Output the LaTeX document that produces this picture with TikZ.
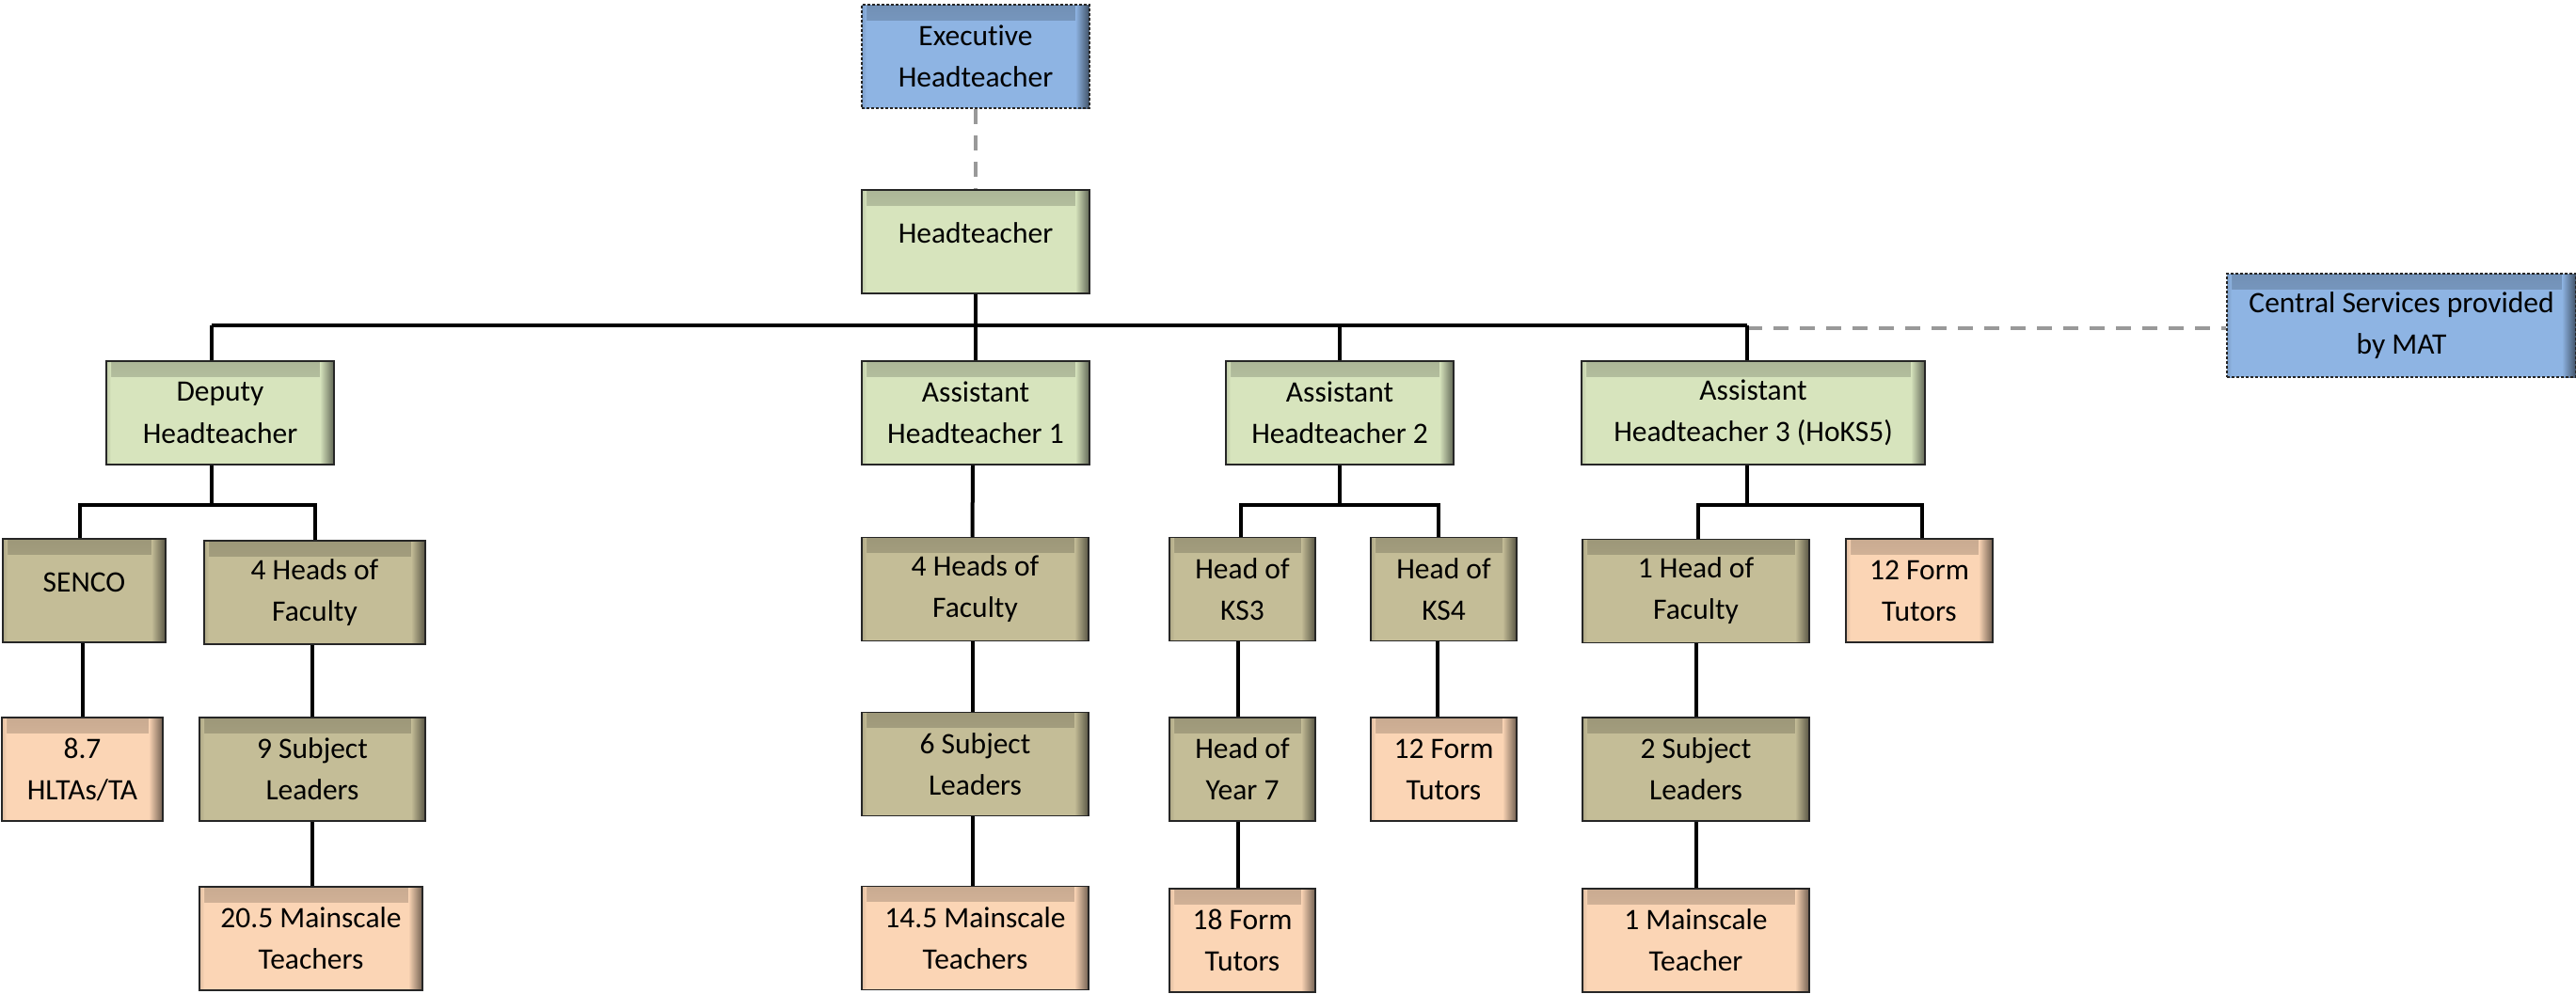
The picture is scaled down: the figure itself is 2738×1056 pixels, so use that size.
\documentclass[tikz,border=0pt]{standalone}
\usepackage{fontspec}
\setmainfont{Carlito}[Ligatures={NoCommon,NoContextual}, RawFeature={-liga;-clig;-dlig}]

\definecolor{mgtblue}{RGB}{142,180,227}
\definecolor{leadgreen}{RGB}{215,228,189}
\definecolor{middletan}{RGB}{196,189,151}
\definecolor{staffpeach}{RGB}{251,213,181}
\definecolor{linkgray}{RGB}{153,153,153}

% one drawing unit
\newdimen\pxu \pxu=0.5pt
% single-line captions sit a little above the box centre
\newcommand{\oneline}[1]{\raisebox{9\pxu}[\height][\depth]{#1}}

\tikzset{
  orgbox/.style={
    rectangle, draw=black!85, line width=0.75pt, fill=#1,
    minimum height=110\pxu, inner sep=0pt, align=center,
    font=\fontsize{15.75}{22}\selectfont,
    path picture={
      \shade[top color=#1!80!black, bottom color=#1]
        (path picture bounding box.north west)
        rectangle ([xshift=-15\pxu, yshift=-16\pxu]path picture bounding box.north east);
      \shade[left color=#1!88!black, right color=#1]
        (path picture bounding box.north west)
        rectangle ([xshift=5\pxu]path picture bounding box.south west);
      \shade[left color=#1, right color=#1!45!black]
        ([xshift=-15\pxu]path picture bounding box.north east)
        rectangle (path picture bounding box.south east);
    }},
  linkbox/.style={orgbox=mgtblue, dash pattern=on 1.5pt off 1pt},
  seniorbox/.style={orgbox=leadgreen},
  middlebox/.style={orgbox=middletan},
  staffbox/.style={orgbox=staffpeach},
  conn/.style={draw=black, line width=2pt},
  dotlink/.style={draw=linkgray, line width=2.25pt, dash pattern=on 8pt off 6pt},
}

\begin{document}
\begin{tikzpicture}[x=0.5pt, y=-0.5pt]
\useasboundingbox (0,0) rectangle (2738,1056);

% top of the tree
\node[linkbox, minimum width=242\pxu] (exec) at (1037,60) {Executive\\Headteacher};
\node[seniorbox, minimum width=242\pxu] (head) at (1037,257) {\oneline{Headteacher}};
\node[linkbox, minimum width=371\pxu] (central) at (2552.5,346) {Central Services provided\\by MAT};

% senior leaders
\node[seniorbox, minimum width=242\pxu] (deputy) at (234,439) {Deputy\\Headteacher};
\node[seniorbox, minimum width=242\pxu] (ah1) at (1037,439) {Assistant\\Headteacher 1};
\node[seniorbox, minimum width=242\pxu] (ah2) at (1424,439) {Assistant\\Headteacher 2};
\node[seniorbox, minimum width=365\pxu] (ah3) at (1863.5,439) {Assistant\\Headteacher 3 (HoKS5)};

% deputy headteacher branch
\node[middlebox, minimum width=173\pxu] (senco) at (89.5,628) {\oneline{SENCO}};
\node[middlebox, minimum width=235\pxu] (dhof) at (334.5,630) {4 Heads of\\Faculty};
\node[staffbox, minimum width=171\pxu] (hltas) at (87.5,818) {8.7\\HLTAs/TA};
\node[middlebox, minimum width=240\pxu] (dsl) at (332,818) {9 Subject\\Leaders};
\node[staffbox, minimum width=237\pxu] (dms) at (330.5,998) {20.5 Mainscale\\Teachers};

% assistant headteacher 1 branch
\node[middlebox, minimum width=241\pxu] (ahof) at (1036.5,626.5) {4 Heads of\\Faculty};
\node[middlebox, minimum width=241\pxu] (asl) at (1036.5,812.5) {6 Subject\\Leaders};
\node[staffbox, minimum width=241\pxu] (ams) at (1036.5,997.5) {14.5 Mainscale\\Teachers};

% assistant headteacher 2 branch
\node[middlebox, minimum width=155\pxu] (ks3) at (1320.5,626.5) {Head of\\KS3};
\node[middlebox, minimum width=155\pxu] (ks4) at (1534.5,626.5) {Head of\\KS4};
\node[middlebox, minimum width=155\pxu] (yr7) at (1320.5,818) {Head of\\Year 7};
\node[staffbox, minimum width=155\pxu] (ft18) at (1320.5,1000) {18 Form\\Tutors};
\node[staffbox, minimum width=155\pxu] (ft12a) at (1534.5,818) {12 Form\\Tutors};

% assistant headteacher 3 branch
\node[middlebox, minimum width=241\pxu] (hof1) at (1802.5,628.5) {1 Head of\\Faculty};
\node[staffbox, minimum width=156\pxu] (ft12b) at (2040,628) {12 Form\\Tutors};
\node[middlebox, minimum width=241\pxu] (sl2) at (1802.5,818) {2 Subject\\Leaders};
\node[staffbox, minimum width=241\pxu] (ms1) at (1802.5,1000) {1 Mainscale\\Teacher};

% junction points of the main bar
\coordinate (busL) at (225,346);
\coordinate (busR) at (1857,346);

% dotted-line relationships
\draw[dotlink] (exec.south) -- (head.north);
\draw[dotlink] ([yshift=-3\pxu]busR) -- ([yshift=-3\pxu]central.west);

% main bar under the headteacher
\draw[conn] (busL) -- (busR);
\draw[conn] (head.south) -- (ah1.north);
\draw[conn] (busL) -- ([xshift=-9\pxu]deputy.north);
\draw[conn] (ah2.north |- busL) -- (ah2.north);
\draw[conn] (busR) -- ([xshift=-6.5\pxu]ah3.north);

% deputy headteacher branch
\draw[conn] ([xshift=-9\pxu]deputy.south) -- ++(0,42) -| ([xshift=-4.5\pxu]senco.north);
\draw[conn] ([xshift=-9\pxu]deputy.south) -- ++(0,42) -| (dhof.north);
\draw[conn] (hltas.north |- senco.south) -- (hltas.north);
\draw[conn] (dsl.north |- dhof.south) -- (dsl.north);
\draw[conn] (dsl.south) -- (dsl.south |- dms.north);

% assistant headteacher 1 branch
\draw[conn] ([xshift=-3\pxu]ah1.south) -- ([xshift=-3\pxu]ahof.north);
\draw[conn] ([xshift=-3\pxu]ahof.south) -- ([xshift=-3\pxu]asl.north);
\draw[conn] ([xshift=-3\pxu]asl.south) -- ([xshift=-3\pxu]ams.north);

% assistant headteacher 2 branch
\draw[conn] (ah2.south) -- ++(0,42) -| ([xshift=-1.5\pxu]ks3.north);
\draw[conn] (ah2.south) -- ++(0,42) -| ([xshift=-5.5\pxu]ks4.north);
\draw[conn] ([xshift=-5\pxu]ks3.south) -- ([xshift=-5\pxu]yr7.north);
\draw[conn] ([xshift=-5\pxu]yr7.south) -- ([xshift=-5\pxu]ft18.north);
\draw[conn] ([xshift=-7\pxu]ks4.south) -- ([xshift=-7\pxu]ft12a.north);

% assistant headteacher 3 branch
\draw[conn] ([xshift=-6.5\pxu]ah3.south) -- ++(0,42) -| ([xshift=2.5\pxu]hof1.north);
\draw[conn] ([xshift=-6.5\pxu]ah3.south) -- ++(0,42) -| ([xshift=3\pxu]ft12b.north);
\draw[conn] (hof1.south) -- (sl2.north);
\draw[conn] (sl2.south) -- (ms1.north);
\end{tikzpicture}
\end{document}
